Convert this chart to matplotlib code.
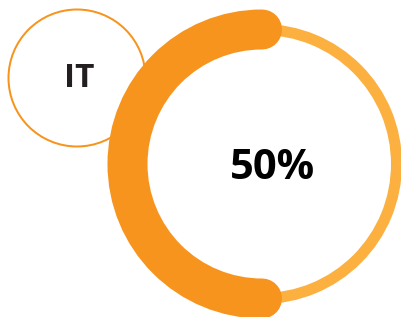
import matplotlib
matplotlib.use("Agg")
import matplotlib.pyplot as plt
from matplotlib.patches import Arc, Circle

# chart data
category = "IT"
value = 50  # percent

W, H = 402, 317
fig = plt.figure(figsize=(W / 100, H / 100), dpi=100)
ax = fig.add_axes([0, 0, 1, 1])
ax.set_xlim(0, W)
ax.set_ylim(0, H)
ax.set_aspect("equal")
ax.axis("off")

px = 72 / 100  # points per pixel

# small label bubble
ax.add_patch(Circle((77, H - 78), 68.5, fill=False, ec="#F7941E", lw=2 * px, zorder=1))
ax.text(79, H - 79, category, ha="center", va="center", fontsize=24,
        fontweight="bold", family="Open Sans", color="#231F20", zorder=5)

# gauge ring
cx, cy, r = 262, H - 164, 134.5
ax.add_patch(Arc((cx, cy), 2 * r, 2 * r, theta1=0, theta2=360,
                 color="#FBB040", lw=11 * px, zorder=2))
sweep = 360 * value / 100
arc = Arc((cx, cy), 2 * r, 2 * r, theta1=90, theta2=90 + sweep,
          color="#F7941E", lw=40 * px, zorder=3)
arc.set_capstyle("round")
ax.add_patch(arc)

ax.text(273, H - 169, f"{value}%", ha="center", va="center", fontsize=30,
        fontweight="bold", family="Open Sans", color="black", zorder=5)

fig.savefig("out.png", dpi=100)
